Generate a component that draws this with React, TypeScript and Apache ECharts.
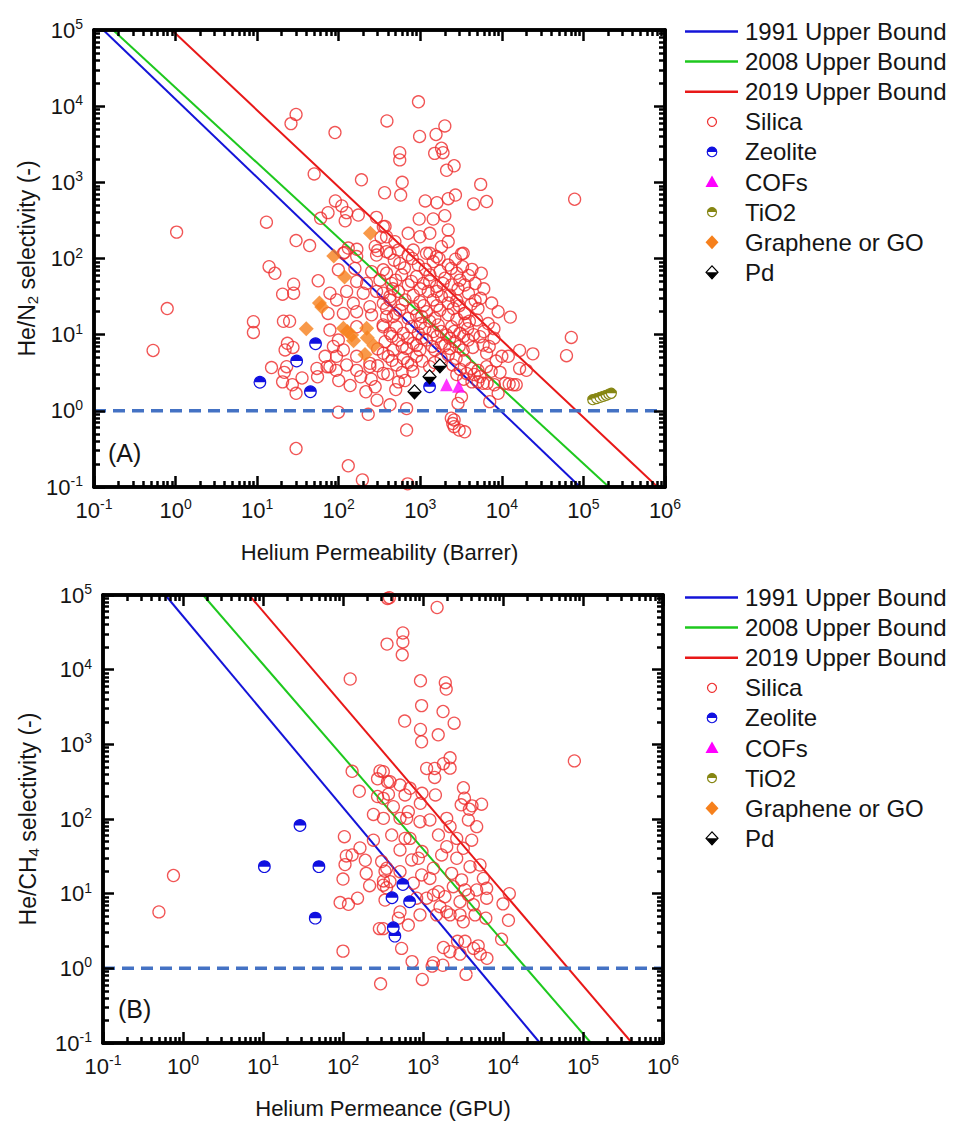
import React, { useEffect, useRef } from "react";
import * as echarts from "echarts";

const FONT = "'Liberation Sans', Arial, 'DejaVu Sans', sans-serif";

// ---- axis ticks (exponents of 10) ----
const xDecades = [-1, 0, 1, 2, 3, 4, 5, 6];
const yDecades = [-1, 0, 1, 2, 3, 4, 5];
const minorMultipliers = [2, 3, 4, 5, 6, 7, 8, 9];

// ---- legend ----
const legendNames = [
  "1991 Upper Bound",
  "2008 Upper Bound",
  "2019 Upper Bound",
  "Silica",
  "Zeolite",
  "COFs",
  "TiO2",
  "Graphene or GO",
  "Pd",
];

// ---- upper bound lines (endpoints) ----
const bound1991A = [[0.13, 1e5], [9.1e4, 0.1]];
const bound2008A = [[0.171, 1e5], [2.05e5, 0.1]];
const bound2019A = [[0.9, 1e5], [8.1e5, 0.1]];
const bound1991B = [[0.6, 1e5], [2.9e4, 0.1]];
const bound2008B = [[1.78, 1e5], [1.26e5, 0.1]];
const bound2019B = [[6.7, 1e5], [4.1e5, 0.1]];
const unityLine = [[0.1, 1], [1e6, 1]];

// ---- Panel A (He/N2) ----
const silicaA = [
  [30, 7800], [26, 5900], [90, 4500], [390, 6400], [950, 11400], [2000, 5500], [980, 4000], [1560, 4250],
  [560, 2450], [560, 1970], [1500, 2400], [1820, 2800], [1900, 2450], [2600, 1650], [2100, 1440], [50, 1290],
  [190, 1080], [600, 1000], [5500, 940], [365, 730], [91, 570], [109, 490], [74, 400], [125, 400], [60, 337],
  [120, 313], [174, 372], [290, 347], [13, 300], [1.03, 222], [30, 172], [44, 148], [330, 190], [370, 263],
  [131, 137], [167, 132], [280, 144], [300, 127], [118, 120], [575, 680], [2700, 680], [2200, 610], [4500, 520],
  [6500, 560], [1150, 570], [1600, 540], [78000, 600], [970, 330], [1440, 330], [2000, 365], [2200, 237],
  [710, 214], [990, 193], [1310, 214], [1820, 143], [2200, 166], [489, 166], [540, 129], [3360, 117], [352, 262],
  [386, 193], [820, 129], [1190, 117], [1580, 106], [425, 117],
  [0.79, 22], [0.53, 6.2], [14, 78], [16.5, 64], [9, 14.8], [9, 10.7], [28, 46], [28, 35], [20.5, 34], [56, 51],
  [21, 15], [25, 15], [23.5, 7.7], [22, 6.3], [27.5, 6.8], [23, 3.8], [21.5, 3.2], [15, 3.7], [20.5, 2.4],
  [27, 2.2], [30, 1.7], [35.5, 2.7], [54, 3.6], [55, 2.8], [72, 3.8], [93, 3.4], [100, 2.5], [138, 2.15],
  [186, 2.8], [280, 2.07], [215, 1.78], [295, 1.38], [99, 0.96], [30, 0.32], [131, 0.19], [195, 0.124],
  [114, 117], [166, 106], [291, 111], [386, 123], [99, 71], [158, 74], [253, 67], [352, 71], [166, 50], [220, 47],
  [320, 52], [78, 35], [125, 37], [200, 35], [291, 37], [424, 31.6], [94, 28.6], [151, 25.8], [241, 23.3],
  [352, 25.8], [74, 19], [114, 19], [166, 20], [253, 18.2], [386, 17.3], [78, 11.5], [99, 8.5], [166, 12.7],
  [352, 12.7], [86, 7.0], [114, 6.3], [166, 5.2], [241, 4.2], [352, 5.7], [68, 5.2], [94, 5.2], [125, 4.0],
  [78, 3.8], [166, 3.4], [241, 3.8], [352, 3.1],
  [710, 111], [1310, 117], [3200, 115], [560, 86], [945, 82], [1440, 91], [2200, 82], [3300, 78], [5600, 64],
  [386, 64], [590, 61], [900, 58], [1310, 61], [2000, 55], [3060, 52], [3900, 60], [445, 47], [710, 45],
  [1090, 47], [1580, 43], [2420, 45], [4700, 47], [2400, 74], [350, 35], [540, 37], [820, 33], [1250, 37],
  [1820, 31.6], [2800, 28], [3900, 35], [4700, 28], [425, 28.6], [650, 28.6], [990, 27], [1440, 28.6],
  [386, 22], [560, 21], [820, 22], [1190, 20], [1740, 21], [2540, 22], [3520, 19], [5100, 22], [466, 17.3],
  [710, 16.4], [1040, 17.3], [1510, 16.4], [2200, 18.2], [3500, 19], [4900, 15.6], [6800, 14], [350, 13.4],
  [510, 12.7], [780, 12.7], [1140, 12.1], [1660, 13.4], [2420, 12.7], [3520, 14.1], [425, 10.4], [620, 10.4],
  [945, 10.4], [1440, 11], [2100, 9.9], [3060, 10.4], [5400, 9.4], [370, 8.1], [540, 8.5], [820, 7.7],
  [1190, 8.5], [1820, 7.7], [2660, 8.1], [3870, 8.5], [5900, 7.3], [466, 6.3], [680, 6.6], [990, 6.3],
  [1510, 6.3], [2300, 6.6], [3360, 6.3], [6500, 5.7], [405, 5.2], [620, 4.9], [900, 5.2], [1800, 4.9],
  [2200, 5.4], [2750, 4.9], [3500, 4.6], [510, 4.0], [780, 4.0], [1300, 3.8], [4200, 3.6], [5100, 3.4],
  [6500, 3.8], [7400, 3.3], [810, 3.3], [5400, 2.8], [540, 2.4], [650, 2.5], [5100, 2.4], [5900, 2.3],
  [12700, 17], [71000, 9.2], [62000, 5.3], [24000, 5.6], [16500, 6.2], [12000, 5.2], [10000, 5.2], [16500, 3.6],
  [20000, 3.4], [15000, 2.2], [13800, 2.2], [12300, 2.25], [11000, 2.3], [8100, 2.2], [7100, 1.32], [3200, 1.53],
  [2900, 1.25], [2600, 0.76], [2600, 0.62], [3000, 0.56], [3500, 0.53], [2400, 0.8], [2500, 0.68], [680, 0.56],
  [680, 1.07], [425, 1.2], [700, 0.11],
  [480, 95], [800, 100], [1700, 100], [2700, 98], [640, 75], [1150, 72], [1750, 68], [2800, 64], [4300, 72],
  [500, 52], [780, 50], [1300, 50], [1900, 47], [2900, 40], [3500, 45], [6000, 40], [460, 40], [1000, 40],
  [1600, 37], [2300, 33], [5500, 30], [7500, 26], [600, 25], [1100, 24], [1600, 24], [2200, 26], [3000, 24],
  [4200, 25], [9000, 20], [500, 19], [900, 18], [1300, 15], [2800, 16], [4000, 15], [8000, 12], [1000, 14],
  [1800, 11], [2600, 11], [3800, 12], [6000, 11], [450, 9.5], [700, 9], [1050, 9], [1600, 9.5], [2300, 9],
  [3400, 9.5], [4500, 10], [8000, 9], [600, 7], [900, 7.2], [1400, 7], [2000, 7.2], [3000, 7], [4400, 6.8],
  [7000, 7], [300, 6.5], [450, 4.6], [700, 4.3], [1050, 4.5], [1500, 4.3], [2500, 4.0], [3100, 3.5],
  [3700, 3.1], [4600, 3.0], [8500, 4.5], [9500, 3.2], [300, 3.9], [250, 2.6], [400, 3.0], [600, 3.2],
  [2800, 3.0], [3400, 2.6], [4300, 2.4], [6600, 2.3], [500, 1.9], [9000, 1.7], [230, 0.9],
];
const zeoliteA = [[52, 7.6], [10.8, 2.37], [30.5, 4.5], [45, 1.78], [1300, 2.07]];
const cofsA = [[2100, 2.2], [2950, 2.1]];
const tio2A = [[1.3e5, 1.4], [1.45e5, 1.45], [1.6e5, 1.5], [1.75e5, 1.55], [1.9e5, 1.6], [2.05e5, 1.65], [2.2e5, 1.7]];
const grapheneA = [
  [245, 215], [87, 108], [118, 57], [62, 23], [58, 26], [40, 12], [114, 12.1], [128, 11], [144, 9.9],
  [152, 8.3], [220, 12.1], [224, 9.1], [270, 7.2], [210, 5.5],
];
const pdA = [[850, 1.78], [1300, 2.8], [1740, 3.9]];

// ---- Panel B (He/CH4) ----
const silicaB = [
  [360, 90000], [380, 92000], [1500, 68000], [560, 31000], [560, 23500], [355, 22000], [550, 15800], [123, 7500],
  [930, 7100], [1900, 6700], [1950, 5500], [960, 3300], [1780, 2750], [590, 2050], [2450, 1920], [930, 1580],
  [1550, 1340], [960, 1080], [78000, 600], [2180, 660], [1800, 550], [2180, 480], [1110, 475], [1400, 475],
  [1400, 360], [130, 435], [290, 440], [319, 430], [270, 345], [360, 315], [387, 316], [516, 285], [688, 258],
  [3200, 262], [160, 235], [972, 221], [370, 215], [270, 200], [1430, 210], [596, 210], [3300, 190], [319, 189],
  [926, 162], [5400, 158], [3000, 155], [4100, 150], [426, 146], [3800, 135], [656, 125], [240, 115], [320, 102],
  [516, 102], [1980, 102], [625, 102], [1220, 97], [917, 92], [3690, 97], [2180, 79], [4690, 79],
  [0.76, 17.5], [0.5, 5.7], [104, 58], [240, 52], [163, 41], [130, 33], [110, 32], [106, 24.5], [190, 28],
  [195, 18.7], [215, 12.8], [100, 15.7], [92, 7.6], [117, 7.2], [152, 8.7], [285, 3.4], [100, 1.7], [295, 0.62],
  [320, 14.8], [350, 12], [335, 20],
  [596, 55], [406, 61], [688, 55], [1560, 61], [2640, 55], [4060, 52], [516, 38.5], [972, 36.6], [3190, 40.5],
  [1980, 42.6], [1710, 33], [721, 28.3], [875, 29.8], [2640, 29.8], [304, 26.9], [5160, 24.2], [3870, 23],
  [352, 21.9], [1350, 21.9], [516, 19.7], [2280, 18.7], [962, 17.8], [5680, 16], [1220, 16], [3040, 15.3],
  [387, 14.5], [757, 13.8], [319, 13], [2390, 12.4], [6250, 11.8], [3350, 11.2], [4690, 11.2], [1560, 10.6],
  [12000, 10], [1350, 9.6], [3690, 9.6], [1880, 9.1], [1110, 8.7], [834, 8.7], [6250, 8.7], [335, 8.2],
  [2900, 7.8], [10000, 7.3], [4260, 7.1], [1630, 6.7], [1980, 5.7], [516, 5.7], [2180, 5.2], [917, 5.2],
  [1480, 5.2], [2900, 5.2], [4470, 5.2], [6100, 4.7], [492, 4.7], [11700, 4.4], [3190, 4.2], [656, 3.8],
  [319, 3.4], [9600, 2.45], [3350, 2.3], [2700, 2.3], [4900, 2.0], [1800, 1.9], [4300, 1.85], [540, 1.85],
  [2170, 1.67], [5200, 1.55], [2900, 1.55], [6300, 1.36], [730, 1.23], [1350, 1.19], [1770, 1.1], [1300, 1.07],
  [3450, 0.83], [980, 0.71],
];
const zeoliteB = [[29, 82], [10.4, 23], [50, 23], [45, 4.7], [560, 13.3], [410, 8.8], [680, 7.8], [445, 2.7], [425, 3.5]];

// ---- styling ----
const C_BLUE = "#1414d8";
const C_GREEN = "#1ec81e";
const C_RED = "#e81818";
const C_SILICA = "#ee2a2a";
const C_ZEO = "#1010e0";
const C_MAGENTA = "#ff00ff";
const C_OLIVE = "#868612";
const C_ORANGE = "#f6801c";
const C_DASH = "#4472c4";
const TXT = "#151515";

const X_MIN = 0.1, X_MAX = 1e6, Y_MIN = 0.1, Y_MAX = 1e5;
const MAJOR_LEN = 11, MINOR_LEN = 6;

function minorValues(decades: number[], lastExp: number) {
  const minor: number[] = [];
  decades.forEach((e) => {
    if (e < lastExp) minorMultipliers.forEach((m) => minor.push(m * Math.pow(10, e)));
  });
  return minor;
}
const xMinor = minorValues(xDecades, 6);
const yMinor = minorValues(yDecades, 5);

const supFmt = (v: number) => `{b|10}{s|${Math.round(Math.log10(v))}}`;
const supRich = {
  b: { fontSize: 22, fontFamily: FONT, color: TXT, lineHeight: 26 },
  s: { fontSize: 14, fontFamily: FONT, color: TXT, verticalAlign: "top", lineHeight: 16 },
};

const tickStyle = (len: number, custom?: number[]) => {
  const t: any = { show: true, inside: true, length: len, lineStyle: { color: "#000", width: 2.5 } };
  if (custom) t.customValues = custom;
  return t;
};

function mkXAxes(gi: number, name: string, gap: number) {
  const common = {
    type: "log", logBase: 10, gridIndex: gi, min: X_MIN, max: X_MAX, z: 10,
    axisLine: { show: true, onZero: false, lineStyle: { color: "#000", width: 3.5 } }, splitLine: { show: false },
  };
  return [
    {
      ...common, position: "bottom", axisTick: tickStyle(MAJOR_LEN),
      axisLabel: { margin: 10, formatter: supFmt, rich: supRich, showMinLabel: true, showMaxLabel: true },
      name, nameLocation: "middle", nameGap: gap, nameMoveOverlap: false,
      nameTextStyle: { fontSize: 22, fontFamily: FONT, color: TXT },
    },
    { ...common, position: "top", axisTick: tickStyle(MAJOR_LEN), axisLabel: { show: false } },
    { ...common, position: "bottom", axisTick: tickStyle(MINOR_LEN, xMinor), axisLabel: { show: false } },
    { ...common, position: "top", axisTick: tickStyle(MINOR_LEN, xMinor), axisLabel: { show: false } },
  ];
}
function mkYAxes(gi: number, name: string, gap: number) {
  const common = {
    type: "log", logBase: 10, gridIndex: gi, min: Y_MIN, max: Y_MAX, z: 10,
    axisLine: { show: true, onZero: false, lineStyle: { color: "#000", width: 3.5 } }, splitLine: { show: false },
  };
  return [
    {
      ...common, position: "left", axisTick: tickStyle(MAJOR_LEN),
      axisLabel: { margin: 11, formatter: supFmt, rich: supRich, showMinLabel: true, showMaxLabel: true },
      name, nameLocation: "middle", nameGap: gap, nameRotate: 90, nameMoveOverlap: false,
      nameTextStyle: {
        color: TXT,
        rich: {
          a: { fontSize: 23, fontFamily: FONT, color: TXT, lineHeight: 26 },
          u: { fontSize: 15, fontFamily: FONT, color: TXT, verticalAlign: "bottom", lineHeight: 16 },
        },
      },
    },
    { ...common, position: "right", axisTick: tickStyle(MAJOR_LEN), axisLabel: { show: false } },
    { ...common, position: "left", axisTick: tickStyle(MINOR_LEN, yMinor), axisLabel: { show: false } },
    { ...common, position: "right", axisTick: tickStyle(MINOR_LEN, yMinor), axisLabel: { show: false } },
  ];
}

function halfCircle(cx: number, cy: number, r: number, color: string) {
  return {
    type: "group",
    children: [
      { type: "circle", shape: { cx, cy, r }, style: { fill: "#fff", stroke: color, lineWidth: 1.2 } },
      { type: "sector", shape: { cx, cy, r0: 0, r, startAngle: Math.PI, endAngle: Math.PI * 2, clockwise: true }, style: { fill: color } },
    ],
  };
}
function pdDiamond(cx: number, cy: number, w: number, h: number) {
  return {
    type: "group",
    children: [
      { type: "polygon", shape: { points: [[cx - w, cy], [cx, cy - h], [cx + w, cy], [cx, cy + h]] }, style: { fill: "#fff", stroke: "#000", lineWidth: 1.2 } },
      { type: "polygon", shape: { points: [[cx - w, cy], [cx + w, cy], [cx, cy + h]] }, style: { fill: "#000" } },
    ],
  };
}

function customMarker(ai: number, data: number[][], kind: "zeo" | "tio2" | "pd", z: number) {
  return {
    type: "custom", xAxisIndex: ai, yAxisIndex: ai, silent: true, z,
    data,
    renderItem: (_p: any, api: any) => {
      const p = api.coord([api.value(0), api.value(1)]);
      if (kind === "pd") return pdDiamond(p[0], p[1], 6.5, 7);
      return halfCircle(p[0], p[1], kind === "zeo" ? 5.8 : 5, kind === "zeo" ? C_ZEO : C_OLIVE);
    },
  };
}

function lineSeries(ai: number, data: number[][], color: string, z = 2) {
  return {
    type: "line", xAxisIndex: ai, yAxisIndex: ai, data, showSymbol: false, silent: true, z,
    lineStyle: { color, width: 2 },
  };
}

function panelSeries(ai: number, s: any) {
  const out: any[] = [
    lineSeries(ai, s.b1991, C_BLUE),
    lineSeries(ai, s.b2008, C_GREEN),
    lineSeries(ai, s.b2019, C_RED),
    {
      type: "line", xAxisIndex: ai, yAxisIndex: ai, data: unityLine, showSymbol: false, silent: true, z: 6,
      lineStyle: { color: C_DASH, width: 3.5, type: [12, 7] },
    },
    {
      type: "scatter", xAxisIndex: ai, yAxisIndex: ai, data: s.silica, symbol: "circle", symbolSize: 12, silent: true, z: 3,
      itemStyle: { color: "rgba(255,255,255,0)", borderColor: C_SILICA, borderWidth: 1.3 },
    },
    customMarker(ai, s.zeolite, "zeo", 5),
  ];
  if (s.cofs) out.push({ type: "scatter", xAxisIndex: ai, yAxisIndex: ai, data: s.cofs, symbol: "triangle", symbolSize: 13, silent: true, z: 5, itemStyle: { color: C_MAGENTA } });
  if (s.tio2) out.push(customMarker(ai, s.tio2, "tio2", 5));
  if (s.graphene) out.push({ type: "scatter", xAxisIndex: ai, yAxisIndex: ai, data: s.graphene, symbol: "diamond", symbolSize: 15, silent: true, z: 5, itemStyle: { color: C_ORANGE } });
  if (s.pd) out.push(customMarker(ai, s.pd, "pd", 5));
  return out;
}

function legendGraphic(y0: number) {
  const step = 30.1;
  const cx = 712;
  const els: any[] = [];
  const yy = (i: number) => y0 + i * step;
  legendNames.forEach((name, i) => {
    els.push({
      type: "text", x: 745, y: yy(i),
      style: { text: name, fontSize: 24, fontFamily: FONT, fill: TXT, verticalAlign: "middle", align: "left" },
    });
  });
  [C_BLUE, C_GREEN, C_RED].forEach((c, i) => {
    els.push({ type: "line", shape: { x1: 685, y1: yy(i), x2: 738, y2: yy(i) }, style: { stroke: c, lineWidth: 2.5 } });
  });
  els.push({ type: "circle", shape: { cx, cy: yy(3), r: 4.5 }, style: { fill: "none", stroke: C_SILICA, lineWidth: 1.2 } });
  els.push(halfCircle(cx, yy(4), 4.8, C_ZEO));
  els.push({ type: "polygon", shape: { points: [[cx, yy(5) - 6.5], [cx + 6.5, yy(5) + 5], [cx - 6.5, yy(5) + 5]] }, style: { fill: C_MAGENTA } });
  els.push(halfCircle(cx, yy(6), 4.5, C_OLIVE));
  els.push({ type: "polygon", shape: { points: [[cx, yy(7) - 7], [cx + 6.5, yy(7)], [cx, yy(7) + 7], [cx - 6.5, yy(7)]] }, style: { fill: C_ORANGE } });
  els.push(pdDiamond(cx, yy(8), 6, 6.5));
  return els;
}

function buildOption() {
  return {
    animation: false,
    backgroundColor: "#fff",
    grid: [
      { left: 94, top: 30, width: 571, height: 457, show: false, outerBoundsMode: "none" },
      { left: 103, top: 595, width: 560, height: 448, show: false, outerBoundsMode: "none" },
    ],
    xAxis: [...mkXAxes(0, "Helium Permeability (Barrer)", 54), ...mkXAxes(1, "Helium Permeance (GPU)", 54)],
    yAxis: [
      ...mkYAxes(0, "{a|He/N}{u|2}{a| selectivity (-)}", 54),
      ...mkYAxes(1, "{a|He/CH}{u|4}{a| selectivity (-)}", 62),
    ],
    series: [
      ...panelSeries(0, { b1991: bound1991A, b2008: bound2008A, b2019: bound2019A, silica: silicaA, zeolite: zeoliteA, cofs: cofsA, tio2: tio2A, graphene: grapheneA, pd: pdA }),
      ...panelSeries(4, { b1991: bound1991B, b2008: bound2008B, b2019: bound2019B, silica: silicaB, zeolite: zeoliteB }),
    ],
    graphic: [
      ...legendGraphic(31.5),
      ...legendGraphic(597.5),
      { type: "text", x: 108, y: 453, style: { text: "(A)", fontSize: 25, fontFamily: FONT, fill: TXT, verticalAlign: "middle" } },
      { type: "text", x: 118, y: 1009, style: { text: "(B)", fontSize: 25, fontFamily: FONT, fill: TXT, verticalAlign: "middle" } },
    ],
  };
}

export default function App() {
  const ref = useRef<HTMLDivElement>(null);
  useEffect(() => {
    if (!ref.current) return;
    const chart = echarts.init(ref.current, null, { renderer: "svg" });
    chart.setOption(buildOption() as any);
    return () => chart.dispose();
  }, []);
  return (
    <div
      ref={ref}
      style={{ position: "absolute", left: 0, top: 0, width: 954, height: 1122, background: "#fff" }}
    />
  );
}
